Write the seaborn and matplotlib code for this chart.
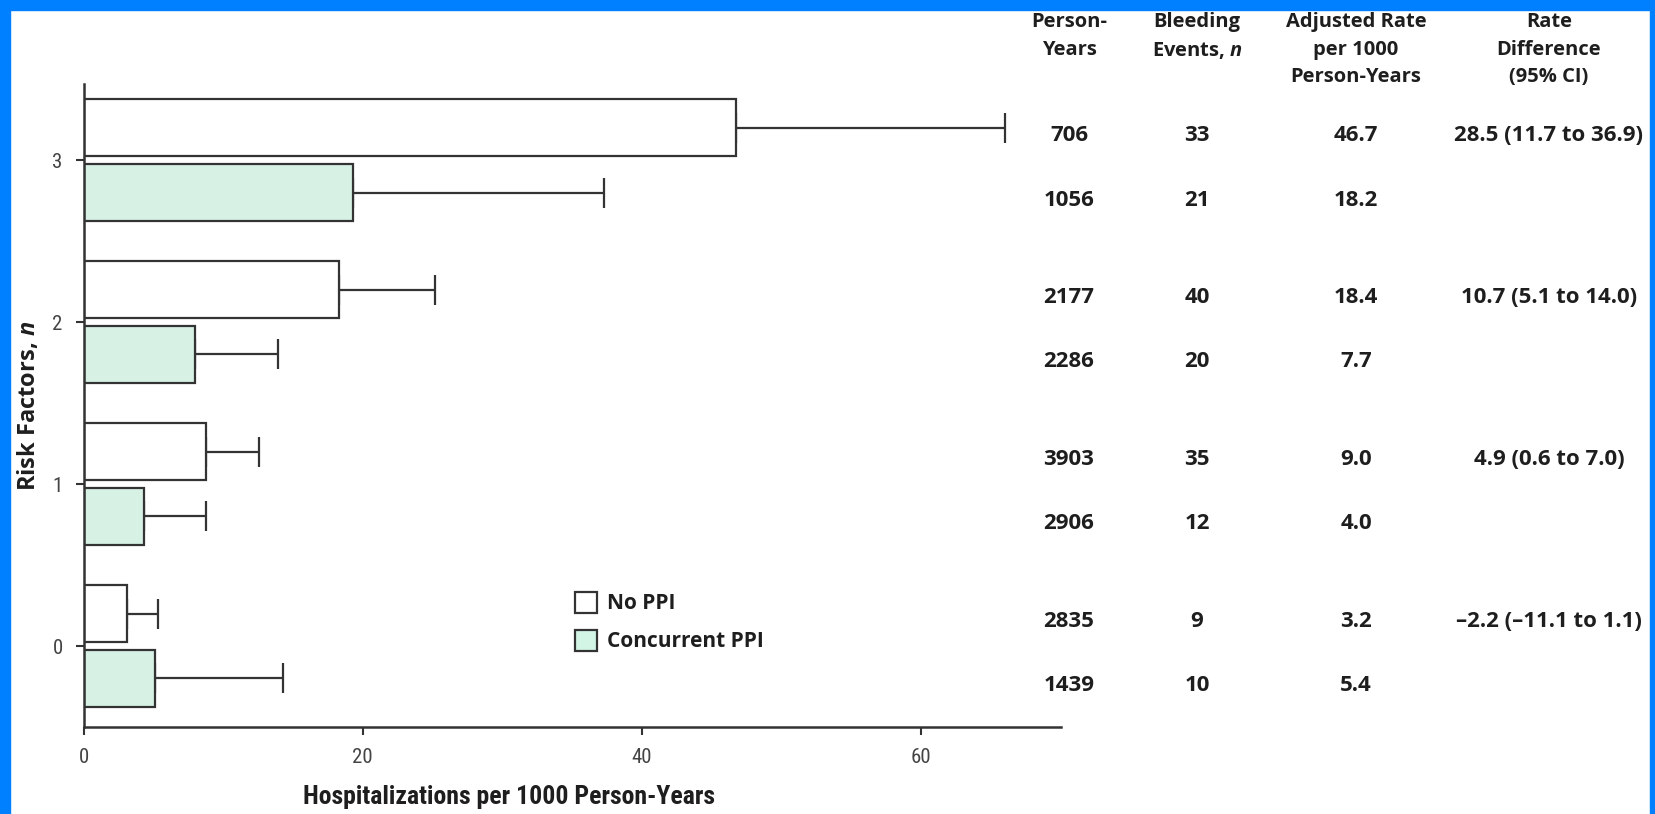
import pandas as pd
import seaborn as sns
import matplotlib.pyplot as plt
import matplotlib.transforms as mtransforms
from matplotlib import font_manager
from matplotlib.patches import Patch, Rectangle

# ==========================================
# 1. DATA
# ==========================================
risk_factors = [3, 2, 1, 0]

rate_no_ppi = [46.7, 18.3, 8.8, 3.1]
rate_ppi = [19.3, 8.0, 4.3, 5.1]
upper_no_ppi = [66.0, 25.2, 12.6, 5.3]
upper_ppi = [37.3, 13.9, 8.8, 14.3]

person_years_no_ppi = ['706', '2177', '3903', '2835']
person_years_ppi = ['1056', '2286', '2906', '1439']
events_no_ppi = ['33', '40', '35', '9']
events_ppi = ['21', '20', '12', '10']
adj_rate_no_ppi = ['46.7', '18.4', '9.0', '3.2']
adj_rate_ppi = ['18.2', '7.7', '4.0', '5.4']
rate_difference = ['28.5 (11.7 to 36.9)', '10.7 (5.1 to 14.0)',
                   '4.9 (0.6 to 7.0)', '\u20132.2 (\u201311.1 to 1.1)']

headers = ['Person-\nYears', 'Bleeding\nEvents, $n$',
           'Adjusted Rate\nper 1000\nPerson-Years', 'Rate\nDifference\n(95% CI)']
groups = ['No PPI', 'Concurrent PPI']

df = pd.DataFrame({
    'risk': risk_factors * 2,
    'rate': rate_no_ppi + rate_ppi,
    'upper': upper_no_ppi + upper_ppi,
    'group': [groups[0]] * 4 + [groups[1]] * 4,
})

# ==========================================
# 2. STYLE
# ==========================================
sns.set_style('ticks')


def pick_font(names):
    for name in names:
        try:
            font_manager.findfont(name, fallback_to_default=False)
            return name
        except Exception:
            continue
    return 'DejaVu Sans'


narrow = pick_font(['Liberation Sans Narrow', 'Roboto Condensed', 'Open Sans'])
body = pick_font(['Open Sans', 'Noto Sans', 'Lato'])
plt.rcParams['font.family'] = [body, 'DejaVu Sans']
plt.rcParams['mathtext.fontset'] = 'custom'
plt.rcParams['mathtext.it'] = f'{body}:italic:bold'
plt.rcParams['mathtext.rm'] = body

INK = '#333333'
TEXT = '#1e1e1e'
MINT = '#d3f5e6'
BLUE = '#0080ff'

W, H = 1655, 814
fig = plt.figure(figsize=(W / 100, H / 100), dpi=100)
ax = fig.add_axes([83.5 / W, 1 - 727 / H, (1061 - 83.5) / W, (727 - 84) / H])
ax.patch.set_alpha(0)

# ==========================================
# 3. BARS + ERROR BARS
# ==========================================
sns.barplot(data=df, x='rate', y='risk', hue='group', orient='h',
            hue_order=['Concurrent PPI', 'No PPI'],
            palette={'No PPI': 'white', 'Concurrent PPI': MINT},
            native_scale=True, width=0.8, gap=0.125, errorbar=None,
            edgecolor=INK, linewidth=1.6, legend=False, ax=ax)

lookup = df.set_index(['risk', 'group'])
for bar in ax.patches:
    yc = bar.get_y() + bar.get_height() / 2
    r = int(round(yc))
    grp = 'No PPI' if yc > r else 'Concurrent PPI'
    val = lookup.loc[(r, grp), 'rate']
    up = lookup.loc[(r, grp), 'upper']
    ax.errorbar(val, yc, xerr=[[0], [up - val]], fmt='none', ecolor=INK,
                elinewidth=1.6, capsize=10.5, capthick=1.6, zorder=0.5)

ax.set_xlim(0, 70)
ax.set_ylim(-0.5, 3.47)
ax.set_xticks([0, 20, 40, 60])
ax.set_yticks([0, 1, 2, 3])
sns.despine(ax=ax)
for side in ['left', 'bottom']:
    ax.spines[side].set_color(INK)
    ax.spines[side].set_linewidth(1.8)
ax.tick_params(axis='both', length=6, width=1.5, color=INK,
               labelcolor='#444444', labelsize=15, pad=9)
for lab in ax.get_xticklabels() + ax.get_yticklabels():
    lab.set_fontfamily(narrow)

ax.set_xlabel('Hospitalizations per 1000 Person-Years', fontsize=18.5,
              fontfamily=narrow, fontweight='bold', color=TEXT)
ax.xaxis.set_label_coords(0.435, -0.09)
ax.set_ylabel('Risk Factors, $n$', fontsize=17, fontweight='bold',
              color=TEXT, labelpad=8)

legend_handles = [Patch(facecolor='white', edgecolor=INK, linewidth=1.6),
                  Patch(facecolor=MINT, edgecolor=INK, linewidth=1.6)]
leg = ax.legend(legend_handles, groups, loc='upper left',
                bbox_to_anchor=(575 / W, 1 - 592 / H), bbox_transform=fig.transFigure,
                frameon=False, borderpad=0, borderaxespad=0, handlelength=1.05,
                handleheight=1.15, handletextpad=0.5, labelspacing=0.75,
                prop={'family': body, 'weight': 'bold', 'size': 15})
for t in leg.get_texts():
    t.set_color(TEXT)

# ==========================================
# 4. TABLE ON THE RIGHT
# ==========================================
col_x = [1069 / W, 1197 / W, 1356 / W, 1549 / W]
for x, head in zip(col_x, headers):
    fig.text(x, 0.985, head, ha='center', va='top', multialignment='center',
             fontsize=14.5, fontweight='bold', color=TEXT, linespacing=1.5)

blend = mtransforms.blended_transform_factory(fig.transFigure, ax.transData)
blend = mtransforms.offset_copy(blend, fig=fig, y=-5, units='dots')
for i, r in enumerate(risk_factors):
    rows = [(r + 0.2, [person_years_no_ppi[i], events_no_ppi[i], adj_rate_no_ppi[i], rate_difference[i]]),
            (r - 0.2, [person_years_ppi[i], events_ppi[i], adj_rate_ppi[i], ''])]
    for yy, vals in rows:
        for x, v in zip(col_x, vals):
            fig.text(x, yy, v, transform=blend, ha='center', va='center_baseline',
                     fontsize=16, fontweight='bold', color=TEXT)

# blue frame round the picture
fig.patches.append(Rectangle((0, 0), 10 / W, 1, transform=fig.transFigure,
                             color=BLUE, zorder=10))
fig.patches.append(Rectangle((1650 / W, 0), 5 / W, 1, transform=fig.transFigure,
                             color=BLUE, zorder=10))
fig.patches.append(Rectangle((0, 1 - 10 / H), 1, 10 / H, transform=fig.transFigure,
                             color=BLUE, zorder=10))

fig.savefig('out.png', dpi=100, facecolor='white')
